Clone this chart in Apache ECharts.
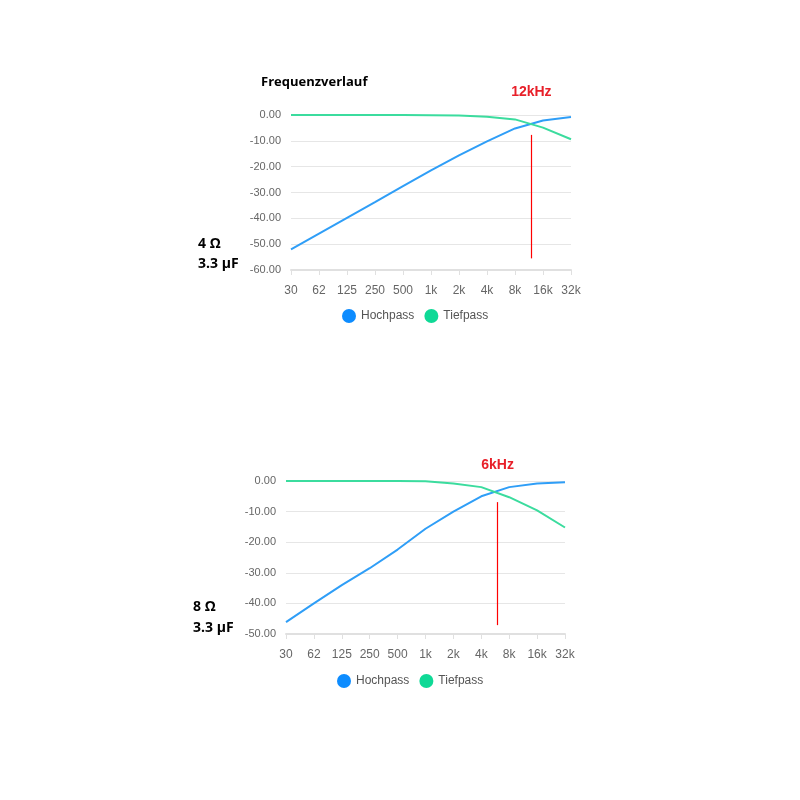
<!DOCTYPE html>
<html>
<head>
<meta charset="utf-8">
<script src="https://cdn.jsdelivr.net/npm/echarts@6/dist/echarts.min.js"></script>
<style>
  html, body { margin: 0; padding: 0; background: #fff; }
  #chart { width: 800px; height: 800px; }
</style>
</head>
<body>
<div id="chart"></div>
<script>
var freqLabels = ['30', '62', '125', '250', '500', '1k', '2k', '4k', '8k', '16k', '32k'];

// 4 Ohm / 3.3 uF
var hoch4 = [-52, -45.9, -39.8, -33.7, -27.5, -21.4, -15.6, -10.2, -5.2, -2.1, -0.8];
var tief4 = [0, 0, 0, 0, 0, -0.05, -0.2, -0.7, -1.7, -4.9, -9.4];
// 8 Ohm / 3.3 uF
var hoch8 = [-46.1, -40.0, -34.0, -28.5, -22.4, -15.6, -10.0, -5.0, -2.0, -0.8, -0.4];
var tief8 = [0, 0, 0, 0, 0, -0.1, -0.8, -2.0, -5.3, -9.6, -15.2];

var crossFreq = [12000, 6000];
var crossText = ['12kHz', '6kHz'];
var markRange = [[-7.7, -55.5], [-6.9, -47.1]];
var labelGap = [36, 30];

var blueLine = '#2f9ef7', blueIcon = '#0d8cff';
var greenLine = '#3bdc9e', greenIcon = '#0fd996';
var markRed = '#ff0000';

function pairs(arr) {
    return arr.map(function (v, i) { return [i, v]; });
}
// position of a frequency on the octave axis (30 ~ 31.25 Hz)
function freqIndex(f) {
    return Math.log(f / 31.25) / Math.LN2;
}

var myChart = echarts.init(document.getElementById('chart'));

function xAxisCfg(idx) {
    return {
        type: 'value', gridIndex: idx, min: 0, max: 10, interval: 1,
        axisLine: { show: true, onZero: false, lineStyle: { color: '#e0e0e0', width: 2 } },
        axisTick: { show: true, length: 5, lineStyle: { color: '#e0e0e0' } },
        splitLine: { show: false },
        axisLabel: {
            margin: 15, color: '#666', fontSize: 12,
            formatter: function (v) { return freqLabels[v]; }
        }
    };
}
function yAxisCfg(idx, min) {
    return {
        type: 'value', gridIndex: idx, min: min, max: 0, interval: 10,
        axisLine: { show: false }, axisTick: { show: false },
        splitLine: { lineStyle: { color: '#e6e6e6' } },
        axisLabel: {
            margin: 10, color: '#666', fontSize: 11,
            formatter: function (v) { return v.toFixed(2); }
        }
    };
}
function markCfg(k) {
    var x = freqIndex(crossFreq[k]);
    return {
        silent: true, symbol: ['none', 'none'], animation: false,
        lineStyle: { color: markRed, width: 1.2, type: 'solid', opacity: 1 },
        label: {
            show: true, position: 'start', distance: labelGap[k],
            formatter: crossText[k], color: '#e8202a',
            fontWeight: 'bold', fontSize: 14
        },
        data: [[{ coord: [x, markRange[k][0]] }, { coord: [x, markRange[k][1]] }]]
    };
}
function lineSeries(name, data, idx, lineColor, iconColor, mark) {
    var s = {
        name: name, type: 'line', xAxisIndex: idx, yAxisIndex: idx,
        data: pairs(data), showSymbol: false, symbol: 'circle',
        lineStyle: { width: 2, color: lineColor },
        itemStyle: { color: iconColor }
    };
    if (mark) s.markLine = mark;
    return s;
}

var sideText = { fontSize: 14, fontWeight: 'bold', fill: '#000', fontFamily: 'Open Sans, sans-serif' };
var legendText = { color: '#555', fontSize: 12 };

var option = {
    animation: false,
    title: {
        text: 'Frequenzverlauf', left: 256, top: 71,
        textStyle: { fontSize: 13, fontWeight: 'bold', color: '#000', fontFamily: 'Open Sans, sans-serif' }
    },
    legend: [
        { data: ['Hochpass', 'Tiefpass'], left: 337, top: 304, icon: 'circle', itemWidth: 14, itemHeight: 14, itemGap: 10,
          textStyle: legendText },
        { data: ['Hochpass', 'Tiefpass'], left: 332, top: 669, icon: 'circle', itemWidth: 14, itemHeight: 14, itemGap: 10,
          textStyle: legendText }
    ],
    grid: [
        { left: 291, right: 229, top: 115, bottom: 530 },
        { left: 286, right: 235, top: 481, bottom: 166 }
    ],
    xAxis: [xAxisCfg(0), xAxisCfg(1)],
    yAxis: [yAxisCfg(0, -60), yAxisCfg(1, -50)],
    graphic: [
        { type: 'text', left: 198, top: 237, style: Object.assign({ text: '4 Ω' }, sideText) },
        { type: 'text', left: 198, top: 257, style: Object.assign({ text: '3.3 µF' }, sideText) },
        { type: 'text', left: 193, top: 600, style: Object.assign({ text: '8 Ω' }, sideText) },
        { type: 'text', left: 193, top: 621, style: Object.assign({ text: '3.3 µF' }, sideText) }
    ],
    series: [
        lineSeries('Hochpass', hoch4, 0, blueLine, blueIcon, markCfg(0)),
        lineSeries('Tiefpass', tief4, 0, greenLine, greenIcon),
        lineSeries('Hochpass', hoch8, 1, blueLine, blueIcon, markCfg(1)),
        lineSeries('Tiefpass', tief8, 1, greenLine, greenIcon)
    ]
};

myChart.setOption(option);
</script>
</body>
</html>
